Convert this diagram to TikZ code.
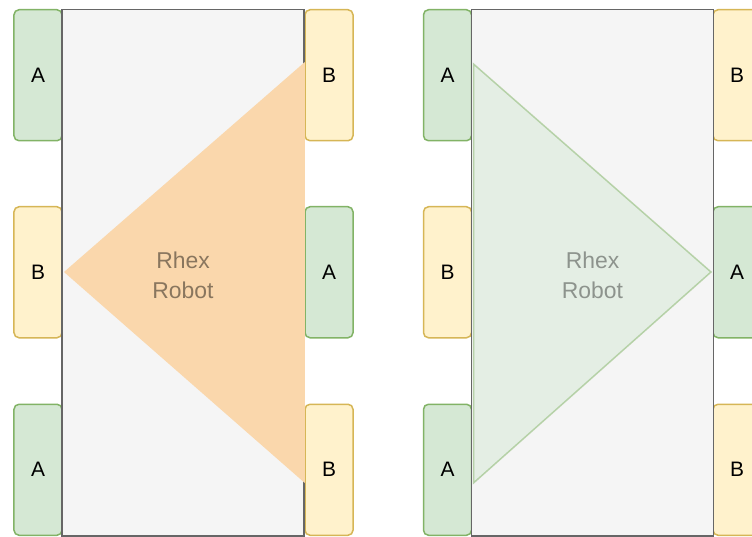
\documentclass[tikz,border=0pt]{standalone}
\usepackage{fontspec}
\setmainfont{Liberation Sans}
\definecolor{gfill}{HTML}{D5E8D4}
\definecolor{gline}{HTML}{82B366}
\definecolor{yfill}{HTML}{FFF2CC}
\definecolor{yline}{HTML}{D6B656}
\definecolor{bfill}{HTML}{F5F5F5}
\definecolor{bline}{HTML}{666666}
\definecolor{ofill}{HTML}{FAD7AC}
\begin{document}
\begin{tikzpicture}[x=1bp,y=-1bp,
  tab/.style={rounded corners=5bp,line width=1.5bp,minimum width=48bp,minimum height=131bp,inner sep=0pt,font=\fontsize{21}{25}\selectfont,text=black},
  taba/.style={tab,draw=gline,fill=gfill},
  tabb/.style={tab,draw=yline,fill=yfill},
  body/.style={draw=bline,fill=bfill,line width=1.7bp,minimum width=242bp,minimum height=526.5bp,inner sep=0pt},
  lbl/.style={align=center,font=\fontsize{23}{30}\selectfont,text opacity=0.45}]
\useasboundingbox (0,0) rectangle (752,537);
% left robot
\node[taba] (la1) at (38,75.25) {A};
\node[tabb] (lb1) at (38,272.25) {B};
\node[taba] (la2) at (38,469.75) {A};
\node[tabb] (rb1) at (329,75.25) {B};
\node[taba] (ra1) at (329,272.25) {A};
\node[tabb] (rb2) at (329,469.75) {B};
\node[body] (bodyL) at (183,272.75) {};
\fill[ofill] (bodyL.east |- 0,62) -- (64,272) -- (bodyL.east |- 0,483) -- cycle;
\node[lbl] (txtL) at (183,275) {Rhex\\Robot};
% right robot
\node[taba] (la3) at (447.5,75.25) {A};
\node[tabb] (lb3) at (447.5,272.25) {B};
\node[taba] (la4) at (447.5,469.75) {A};
\node[tabb] (rb3) at (737,75.25) {B};
\node[taba] (ra3) at (737,272.25) {A};
\node[tabb] (rb4) at (737,469.75) {B};
\node[body] (bodyR) at (592.5,272.75) {};
\filldraw[fill=gfill,draw=gline,fill opacity=0.5,draw opacity=0.5,line width=1.5bp] (473.5,64) -- (711,272) -- (473.5,483) -- cycle;
\node[lbl,text opacity=0.38] (txtR) at (592.5,275) {Rhex\\Robot};
\end{tikzpicture}
\end{document}
